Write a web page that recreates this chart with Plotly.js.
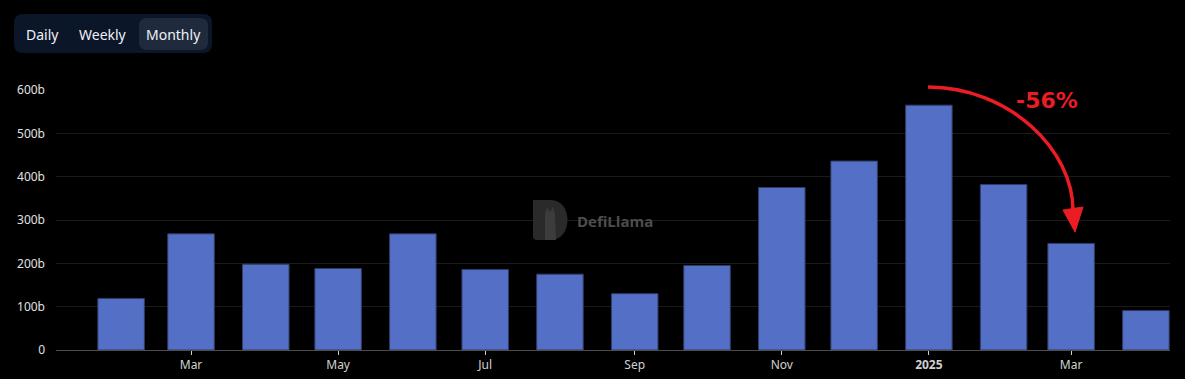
<!DOCTYPE html>
<html>
<head>
<meta charset="utf-8">
<script src="https://cdn.plot.ly/plotly-3.0.1.min.js"></script>
<style>
  html, body { margin: 0; padding: 0; background: #000; }
  #chart { width: 1185px; height: 379px; }
</style>
</head>
<body>
<div id="chart"></div>
<script>
// ---- data (monthly volume, billions USD) ----
const months = ["2024-02-01","2024-03-01","2024-04-01","2024-05-01","2024-06-01","2024-07-01","2024-08-01","2024-09-01","2024-10-01","2024-11-01","2024-12-01","2025-01-01","2025-02-01","2025-03-01","2025-04-01"];
const volumeB = [119, 268, 198, 188, 268, 186, 175, 130, 195, 375, 436, 565, 382, 246, 91];
const xTickVals = ["2024-03-01","2024-05-01","2024-07-01","2024-09-01","2024-11-01","2025-01-01","2025-03-01"];
const xTickText = ["Mar","May","Jul","Sep","Nov","<b>2025</b>","Mar"];
const yTickVals = [0, 100, 200, 300, 400, 500, 600];
const yTickText = ["0","100b","200b","300b","400b","500b","600b"];
const buttons = ["Daily","Weekly","Monthly"];
const changeLabel = "-56%";

// ---- layout helpers (pixel -> paper) ----
const W = 1185, H = 379;
const L = 56, R = 1170, T = 90, B = 350;
const px = X => (X - L) / (R - L);
const py = Y => (B - Y) / (B - T);
const P = (X, Y) => px(X) + "," + py(Y);

const DAY = 86400000;

const trace = {
  type: "bar",
  x: months,
  y: volumeB,
  width: 19.3 * DAY,
  marker: { color: "#5470c6", line: { color: "#2f3d66", width: 1 } },
  hoverinfo: "x+y"
};

// rounded rect path in pixel coords -> paper
function roundRect(x0, y0, x1, y1, r) {
  return "M " + P(x0 + r, y0) +
    " L " + P(x1 - r, y0) +
    " Q " + P(x1, y0) + " " + P(x1, y0 + r) +
    " L " + P(x1, y1 - r) +
    " Q " + P(x1, y1) + " " + P(x1 - r, y1) +
    " L " + P(x0 + r, y1) +
    " Q " + P(x0, y1) + " " + P(x0, y1 - r) +
    " L " + P(x0, y0 + r) +
    " Q " + P(x0, y0) + " " + P(x0 + r, y0) + " Z";
}

const shapes = [
  // button group
  { type: "path", xref: "paper", yref: "paper", path: roundRect(14, 14, 212, 53, 9),
    fillcolor: "#0b1629", line: { width: 0 }, layer: "above" },
  { type: "path", xref: "paper", yref: "paper", path: roundRect(139, 18, 208, 50, 8),
    fillcolor: "#1f2a3d", line: { width: 0 }, layer: "above" },
  // watermark logo (D shape)
  { type: "path", xref: "paper", yref: "paper",
    path: "M " + P(533, 200) + " L " + P(551, 200) +
          " C " + P(573, 200) + " " + P(573, 240) + " " + P(551, 240) +
          " L " + P(537, 240) + " Q " + P(533, 240) + " " + P(533, 236) + " Z",
    fillcolor: "#2a2a2a", line: { width: 0 }, layer: "above" },
  { type: "path", xref: "paper", yref: "paper",
    path: "M " + P(545, 240) + " L " + P(545, 214) + " L " + P(547, 207) + " L " + P(550, 212) +
          " L " + P(553, 207) + " L " + P(555, 214) + " L " + P(556, 240) + " Z",
    fillcolor: "#3c3c3c", line: { width: 0 }, layer: "above" },
  // red curved arrow
  { type: "path", xref: "paper", yref: "paper",
    path: "M " + P(928, 87) + " C " + P(1009, 87) + " " + P(1074, 150) + " " + P(1073, 212),
    line: { color: "#ec1c24", width: 3.5 }, layer: "above" },
  { type: "path", xref: "paper", yref: "paper",
    path: "M " + P(1063, 210) + " L " + P(1083, 207) + " L " + P(1075, 232) + " Z",
    fillcolor: "#ec1c24", line: { color: "#ec1c24", width: 1 }, layer: "above" }
];

const btnX = [42, 103, 173];
const annotations = buttons.map((b, i) => ({
  xref: "paper", yref: "paper", x: px(btnX[i]), y: py(34),
  text: b, showarrow: false, xanchor: "center", yanchor: "middle",
  font: { family: "Noto Sans, sans-serif", size: 14, color: "#eef1f6" }
}));
annotations.push({
  xref: "paper", yref: "paper", x: px(1047), y: py(101),
  text: "<b>" + changeLabel + "</b>", showarrow: false, xanchor: "center", yanchor: "middle",
  font: { family: "DejaVu Sans, sans-serif", size: 22, color: "#ec1c24" }
});
annotations.push({
  xref: "paper", yref: "paper", x: px(575), y: py(221),
  text: "<b>DefiLlama</b>", showarrow: false, xanchor: "left", yanchor: "middle",
  font: { family: "Open Sans, sans-serif", size: 15, color: "#4d4d4d" }
});

const layout = {
  width: W, height: H,
  margin: { l: L, r: W - R, t: T, b: H - B, pad: 0 },
  paper_bgcolor: "#000",
  plot_bgcolor: "#000",
  showlegend: false,
  bargap: 0,
  xaxis: {
    type: "date",
    range: ["2024-01-05", "2025-04-11"],
    tickvals: xTickVals,
    ticktext: xTickText,
    tickmode: "array",
    showgrid: false,
    showline: true,
    linecolor: "#4d4d4d",
    linewidth: 1,
    ticks: "outside",
    ticklen: 4,
    tickcolor: "#cccccc",
    tickfont: { family: "Noto Sans, sans-serif", size: 12, color: "#d0d0d0" },
    zeroline: false,
    fixedrange: true
  },
  yaxis: {
    range: [0, 600],
    tickmode: "array",
    tickvals: yTickVals,
    ticktext: yTickText,
    showgrid: true,
    gridcolor: "#1a1a1a",
    gridwidth: 1,
    zeroline: false,
    showline: false,
    ticks: "",
    ticklabelstandoff: 10,
    tickfont: { family: "Noto Sans, sans-serif", size: 12, color: "#e0e0e0" },
    fixedrange: true
  },
  shapes: shapes,
  annotations: annotations
};

Plotly.newPlot("chart", [trace], layout, { displayModeBar: false, staticPlot: true });
</script>
</body>
</html>
